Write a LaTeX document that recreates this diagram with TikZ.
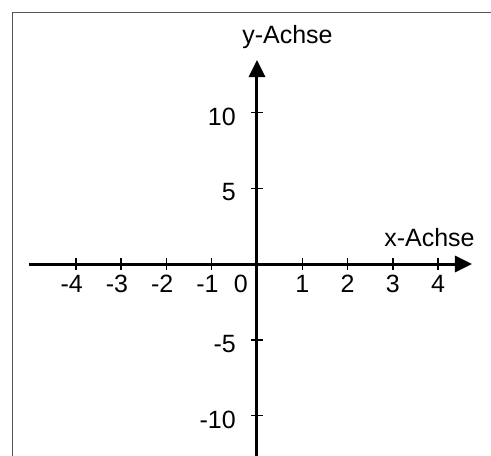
\documentclass[tikz,border=0pt]{standalone}
\usepackage{fontspec}
\setmainfont{Liberation Sans}
\usepackage{xcolor}
\definecolor{framegray}{RGB}{85,85,85}
\usepackage{tikz}
\usetikzlibrary{arrows.meta}

\begin{document}
\begin{tikzpicture}[
  x=45.3pt, y=15.15pt,
  font=\fontsize{25}{29}\selectfont,
  axis/.style={line width=3pt,-{Triangle[length=17pt,width=16pt]}},
  tick/.style={line width=1.5pt},
  frame/.style={draw=framegray,line width=1pt},
  lbl/.style={inner sep=0pt},
]
\useasboundingbox (-257pt,-192pt) rectangle (234pt,264pt);

% frame (top and left edge only)
\coordinate (fbl) at (-244pt,-192pt);
\coordinate (ftr) at (234pt,252pt);
\draw[frame] (fbl) |- (ftr);

\coordinate (xmin) at (-228pt,0);
\coordinate (xmax) at (215pt,0);
\coordinate (ymin) at (0,-193pt);
\coordinate (ymax) at (0,204pt);

\foreach \i in {-4,...,-1,1,2,3,4}
  \draw[tick] (\i,0) ++(0,-6pt) -- ++(0,12pt);
\foreach \j in {-10,-5,5,10}
  \draw[tick] (0,\j) ++(-6pt,0) -- ++(12pt,0);

\draw[axis] (xmin) -- (xmax);
\draw[axis] (ymin) -- (ymax);

% tick labels
\foreach \i in {1,2,3,4}{
  \node[lbl,anchor=base] (xl\i) at ([yshift=-28pt]\i,0) {\i};
  \node[lbl,anchor=base] (xln\i) at ([yshift=-28pt]-\i,0) {\llap{-}\i};
}
\node[lbl,anchor=base east] (zero) at ([xshift=-9pt,yshift=-28pt]0,0) {0};
\foreach \j in {5,10}{
  \node[lbl,anchor=base east] (yl\j) at ([xshift=-21pt,yshift=-12.5pt]0,\j) {\j};
  \node[lbl,anchor=base east] (yln\j) at ([xshift=-21pt,yshift=-12.5pt]0,-\j) {-\j};
}

\node[lbl,anchor=base] (xname) at (172.5pt,18pt) {x-Achse};
\node[lbl,anchor=base] (yname) at (30.5pt,221pt) {y-Achse};
\end{tikzpicture}
\end{document}
